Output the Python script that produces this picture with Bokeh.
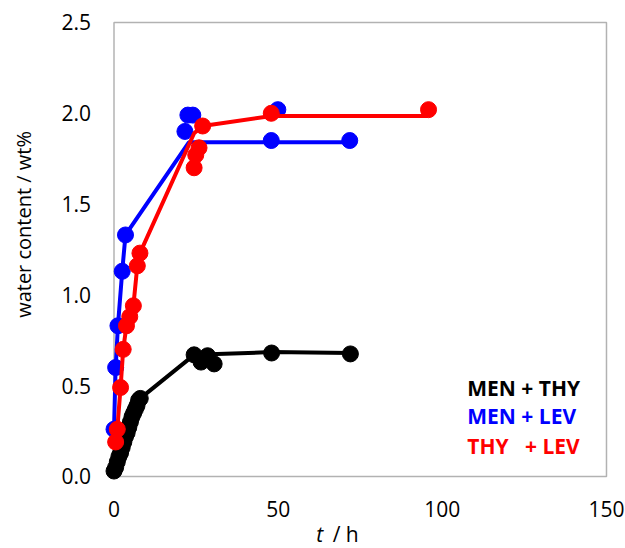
import math
from bokeh.plotting import figure
from bokeh.models import Range1d, FixedTicker, PrintfTickFormatter, BoxAnnotation, Label
from bokeh.embed import file_html
from bokeh.resources import INLINE

# ---- data ----
men_thy_t = [0, 0.5, 1, 1.5, 2, 2.5, 3, 3.5, 4, 4.5, 5, 5.5, 6, 6.5, 7, 7.5, 8, 24.4, 26.5, 28.5, 30.5, 48, 72]
men_thy_w = [0.03, 0.05, 0.08, 0.11, 0.13, 0.16, 0.19, 0.22, 0.24, 0.27, 0.30, 0.33, 0.35, 0.37, 0.39, 0.42, 0.43,
             0.67, 0.63, 0.665, 0.62, 0.68, 0.675]
men_thy_line_t = [0, 0.5, 1, 1.5, 2, 2.5, 3, 3.5, 4, 4.5, 5, 5.5, 6, 6.5, 7, 7.5, 8, 24.4, 48, 72]
men_thy_line_w = [0.03, 0.05, 0.08, 0.11, 0.13, 0.16, 0.19, 0.22, 0.24, 0.27, 0.30, 0.33, 0.35, 0.37, 0.39, 0.42, 0.43,
                  0.67, 0.685, 0.68]

men_lev_t = [0, 0.5, 1.2, 2.5, 3.5, 21.6, 22.5, 24.0, 47.9, 49.9, 71.8]
men_lev_w = [0.26, 0.60, 0.83, 1.13, 1.33, 1.90, 1.99, 1.99, 1.85, 2.02, 1.85]
men_lev_line_t = [0, 0.5, 1.2, 2.5, 3.5, 22.8, 48, 71.8]
men_lev_line_w = [0.26, 0.60, 0.83, 1.13, 1.33, 1.84, 1.84, 1.84]

thy_lev_t = [0.5, 1.0, 2.0, 2.8, 3.8, 4.8, 5.9, 7.1, 7.9, 24.4, 24.9, 25.9, 27.0, 47.9, 95.8]
thy_lev_w = [0.19, 0.26, 0.49, 0.70, 0.83, 0.88, 0.94, 1.16, 1.23, 1.70, 1.77, 1.81, 1.93, 2.00, 2.02]
thy_lev_line_t = [0.5, 1.0, 2.0, 2.8, 3.8, 4.8, 5.9, 7.1, 7.9, 24.4, 27.0, 48, 95.5]
thy_lev_line_w = [0.19, 0.26, 0.49, 0.70, 0.83, 0.88, 0.94, 1.16, 1.23, 1.89, 1.93, 1.985, 1.985]

x_ticks = [0, 50, 100, 150]
y_ticks = [0.0, 0.5, 1.0, 1.5, 2.0, 2.5]
legend_texts = ["MEN + THY", "MEN + LEV", "THY\u00a0\u00a0\u00a0+ LEV"]
colors = ["#000000", "#0000FF", "#FF0000"]

FONT = "Open Sans"

# frame spans the whole canvas; axes are pinned at t=0 / w=0
p = figure(width=625, height=548, output_backend="svg", toolbar_location=None,
           x_range=Range1d(-34.57, 155.79), y_range=Range1d(-0.3965, 2.6211),
           min_border=0)
p.outline_line_color = None
p.grid.visible = False
p.background_fill_color = "white"
p.border_fill_color = "white"

for ax in (p.xaxis[0], p.yaxis[0]):
    ax.fixed_location = 0
    ax.axis_line_color = None
    ax.major_tick_line_color = None
    ax.minor_tick_line_color = None
    ax.major_label_text_font = FONT
    ax.major_label_text_font_size = "21px"
    ax.major_label_text_color = "#000000"

p.xaxis.ticker = FixedTicker(ticks=x_ticks)
p.yaxis.ticker = FixedTicker(ticks=y_ticks)
p.yaxis.formatter = PrintfTickFormatter(format="%.1f")
p.xaxis.major_label_standoff = 19
p.yaxis.major_label_standoff = 17

box = BoxAnnotation(left=0, right=150, bottom=0, top=2.5, fill_color=None,
                    line_color="#000000", line_width=1.5, level="underlay")
p.add_layout(box)

series = [
    (men_thy_line_t, men_thy_line_w, men_thy_t, men_thy_w, colors[0]),
    (men_lev_line_t, men_lev_line_w, men_lev_t, men_lev_w, colors[1]),
    (thy_lev_line_t, thy_lev_line_w, thy_lev_t, thy_lev_w, colors[2]),
]
for lt, lw, st, sw, c in series:
    p.line(lt, lw, line_color=c, line_width=4)
    p.scatter(st, sw, size=16, marker="circle", fill_color=c, line_color=c)

# legend texts
leg_y = [0.487, 0.332, 0.168]
for txt, yy, c in zip(legend_texts, leg_y, colors):
    p.add_layout(Label(x=107.6, y=yy, text=txt, text_color=c, text_font=FONT,
                       text_font_size="21px", text_font_style="bold",
                       text_align="left", text_baseline="middle"))

# axis titles
p.add_layout(Label(x=-27.5, y=1.388, text="water content / wt%", angle=math.pi / 2,
                   text_font=FONT, text_font_size="20px", text_color="#000000",
                   text_align="center", text_baseline="middle"))
p.add_layout(Label(x=61.6, y=-0.319, text="t", text_font=FONT, text_font_size="21px",
                   text_font_style="italic", text_color="#000000",
                   text_align="left", text_baseline="middle"))
p.add_layout(Label(x=66.6, y=-0.319, text="/ h", text_font=FONT, text_font_size="21px",
                   text_color="#000000", text_align="left", text_baseline="middle"))

open("out.html", "w").write(file_html(p, INLINE))
